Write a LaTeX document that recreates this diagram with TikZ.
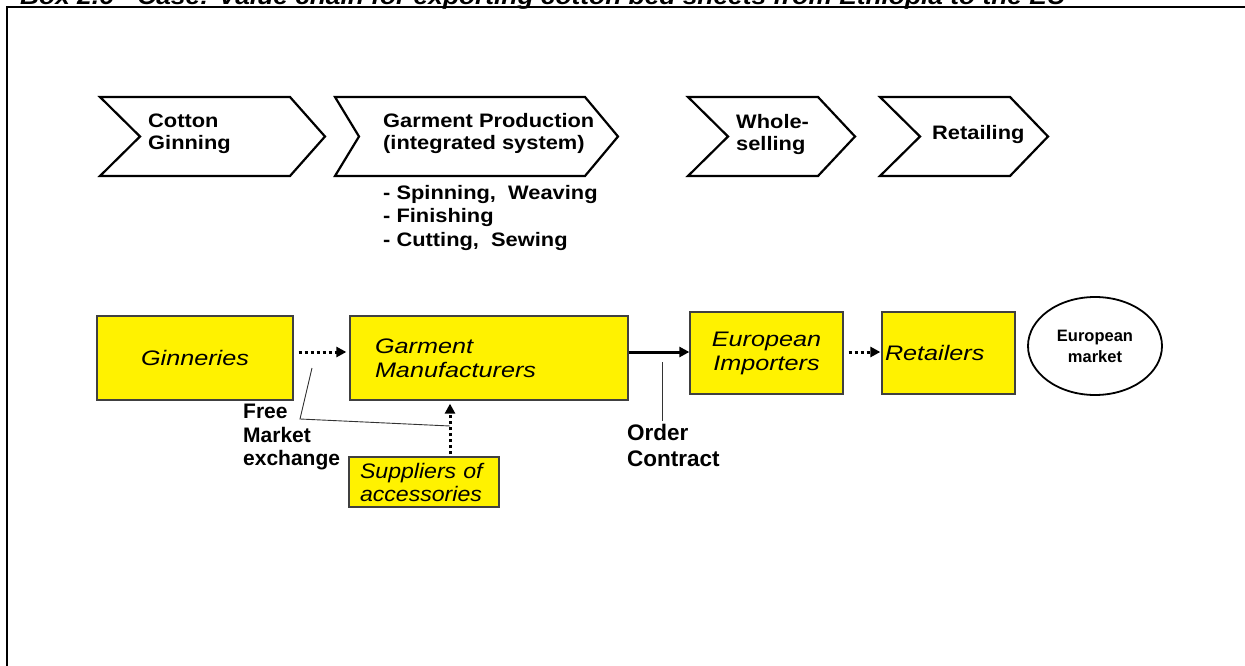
\documentclass[tikz,border=0pt]{standalone}
\usepackage{fontspec}
\setmainfont{Liberation Sans}
% slightly widened Arial-like faces
\newfontfamily\chainstagefont{Liberation Sans}[FakeStretch=1.12]
\newfontfamily\chainactorfont{Liberation Sans}[FakeStretch=1.2]
\newfontfamily\chainsupplyfont{Liberation Sans}[FakeStretch=1.1]
\usetikzlibrary{arrows.meta,shapes.geometric}
\begin{document}
\begin{tikzpicture}[x=1pt,y=-1pt,
  stage/.style={draw=black,line width=2.2pt,line join=miter,fill=white},
  stagetext/.style={font=\chainstagefont\fontsize{19.5}{22}\selectfont\bfseries,align=left,inner sep=0pt,anchor=west},
  actor/.style={draw=black!75,line width=1.3pt,fill=yellow,inner ysep=0pt,
    font=\chainactorfont\fontsize{21}{24}\selectfont\itshape,align=left},
  note/.style={font=\fontsize{21}{23.5}\selectfont\bfseries,align=left,inner sep=0pt},
  dotflow/.style={line width=3pt,dash pattern=on 3pt off 3pt,
    -{Triangle[length=10pt,width=10pt]}},
  flow/.style={line width=3pt,-{Triangle[length=10pt,width=10pt]}},
  callout/.style={line width=0.9pt,draw=black!80}]
\useasboundingbox (0,0) rectangle (1245,666);
\fill[white] (0,0) rectangle (1245,666);

% heading of the box, cut by the page top
\node[anchor=base west,inner sep=0pt,font=\chainstagefont\fontsize{23.5}{23.5}\selectfont\bfseries\itshape]
  (title) at (20,5) {Box 2.6\hspace{1em}Case: Value chain for exporting cotton bed sheets from Ethiopia to the EU};
% frame of the box
\draw[line width=2.4pt] (7,668) -- (7,7) -- (1247,7);

% value chain stages
\draw[stage] (100,97) -- (290,97) -- (325,136.5) -- (290,176) -- (100,176) -- (140,136.5) -- cycle;
\draw[stage] (335,97) -- (585,97) -- (618,136.5) -- (585,176) -- (335,176) -- (359,136.5) -- cycle;
\draw[stage] (688,97) -- (818,97) -- (855,136.5) -- (818,176) -- (688,176) -- (728,136.5) -- cycle;
\draw[stage] (880,97) -- (1010,97) -- (1048,136.5) -- (1010,176) -- (880,176) -- (920,136.5) -- cycle;

\node[stagetext] (ginning) at (148,134) {Cotton\\Ginning};
\node[stagetext] (production) at (383,134) {Garment Production\\(integrated system)};
\node[stagetext,font=\chainstagefont\fontsize{19.5}{23.5}\selectfont\bfseries] (steps) at (383,218)
  {- Spinning,\ \ Weaving\\- Finishing\\- Cutting,\ \ Sewing};
\node[stagetext] (wholesale) at (736,135) {Whole-\\selling};
\node[stagetext] (retailing) at (932,135) {Retailing};

% actors
\node[actor,minimum width=196pt,minimum height=84pt,text width=180pt,inner xsep=8pt,align=center]
  (ginn) at (195,358) {Ginneries};
\node[actor,minimum width=278pt,minimum height=84pt,text width=228pt,inner xsep=25pt]
  (garm) at (489,358) {Garment\\Manufacturers};
\node[actor,minimum width=153pt,minimum height=82pt,text width=133pt,inner xsep=10pt,align=center]
  (imp) at (766.5,353) {European\\Importers};
\node[actor,minimum width=133pt,minimum height=82pt,text width=127pt,inner xsep=3pt]
  (ret) at (948.5,353) {Retailers};
\node[actor,font=\chainsupplyfont\fontsize{21}{23}\selectfont\itshape,
  minimum width=150pt,minimum height=50pt,text width=128pt,inner xsep=11pt]
  (sup) at (424,482) {Suppliers of\\accessories};
\node[draw=black,line width=1.8pt,ellipse,minimum width=134pt,minimum height=98pt,
  font=\fontsize{16.5}{21}\selectfont\bfseries,align=center,inner sep=0pt]
  (market) at (1095,346) {European\\market};

% flows between actors
\draw[dotflow,shorten <=5pt,shorten >=3pt] ([yshift=6pt]ginn.east) -- ([yshift=6pt]ginn.east -| garm.west);
\draw[flow] ([yshift=6pt]garm.east) -- ([yshift=6pt]garm.east -| imp.west);
\draw[dotflow,shorten <=5pt,shorten >=1pt] ([yshift=1pt]imp.east) -- ([yshift=1pt]imp.east -| ret.west);
\draw[dotflow,shorten <=2pt,shorten >=3pt] ([xshift=26pt]sup.north) -- ([xshift=26pt]sup.north |- garm.south);

% labels on the flows
\coordinate (fmA) at (312,368);
\coordinate (fmB) at (300,419);
\coordinate (fmC) at (450,426);
\draw[callout] (fmA) -- (fmB) -- (fmC);
\node[note,anchor=north west] (free) at (243,404) {Free\\Market\\exchange};

\coordinate (ocA) at (662,362);
\coordinate (ocB) at (662,421);
\draw[callout] (ocA) -- (ocB);
\node[note,font=\fontsize{22.5}{25.5}\selectfont\bfseries,anchor=north west] (order) at (627,424) {Order\\Contract};
\end{tikzpicture}
\end{document}
